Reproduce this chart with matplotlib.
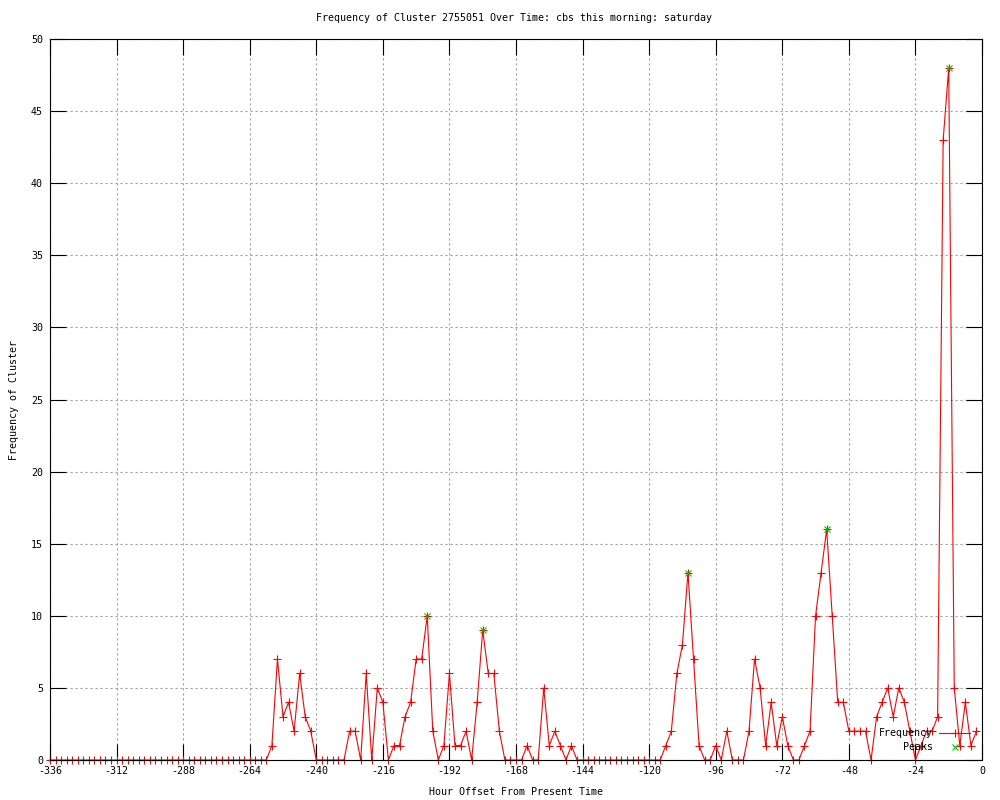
import matplotlib
matplotlib.use("Agg")
import matplotlib.pyplot as plt
import numpy as np

plt.rcParams['font.family'] = ['DejaVu Sans Mono']
plt.rcParams['axes.unicode_minus'] = False

title = "Frequency of Cluster 2755051 Over Time: cbs this morning: saturday"
xlabel = "Hour Offset From Present Time"
ylabel = "Frequency of Cluster"

hours = list(range(-336, 0, 2))
freq = ([0] * 40 +
        [1, 7, 3, 4, 2, 6, 3, 2,            # -256 .. -242
         0, 0, 0, 0, 0, 0, 2, 2, 0, 6,      # -240 .. -222
         0, 5, 4, 0, 1, 1, 3, 4, 7, 7,      # -220 .. -202
         10, 2, 0, 1, 6, 1, 1, 2, 0, 4,     # -200 .. -182
         9, 6, 6, 2, 0, 0, 0, 0, 1, 0,      # -180 .. -162
         0, 5, 1, 2, 1, 0, 1, 0] +          # -160 .. -146
        [0] * 15 +                          # -144 .. -116
        [1, 2, 6, 8, 13, 7, 1, 0, 0, 1,     # -114 .. -96
         0, 2, 0, 0, 0, 2, 7, 5, 1, 4,      # -94 .. -76
         1, 3, 1, 0, 0, 1, 2, 10, 13, 16,   # -74 .. -56
         10, 4, 4, 2, 2, 2, 2, 0, 3, 4,     # -54 .. -36
         5, 3, 5, 4, 2, 0, 1, 2, 2, 3,      # -34 .. -16
         43, 48, 5, 1, 4, 1, 2])            # -14 .. -2

peak_hours = [-200, -180, -106, -56, -12]
peak_vals = [10, 9, 13, 16, 48]

xticks = list(range(-336, 1, 24))
yticks = list(range(0, 51, 5))

fig = plt.figure(figsize=(10, 8), dpi=100)
ax = fig.add_axes([0.05, 0.05, 0.932, 0.90125])

ax.plot(hours, freq, color='red', lw=0.8, marker='+', ms=5.5, mew=0.8,
        clip_on=False, label='Frequency', zorder=3)
ax.plot(peak_hours, peak_vals, ls='none', marker='x', color='#00c000',
        ms=5, mew=0.8, clip_on=False, label='Peaks', zorder=4)

ax.set_xlim(-336, 0)
ax.set_ylim(0, 50)
ax.set_xticks(xticks)
ax.set_yticks(yticks)
ax.grid(True, color='#a0a0a0', lw=0.8, linestyle=(0, (2, 2.5)))
ax.set_axisbelow(True)
ax.tick_params(direction='in', length=11.5, width=0.8, top=True, right=True,
               labelsize=7.2, pad=4)
ax.tick_params(axis='y', pad=5)
for s in ax.spines.values():
    s.set_linewidth(0.8)
    s.set_zorder(5)

ax.set_xlabel(xlabel, fontsize=7.2, labelpad=8)
ax.set_ylabel(ylabel, fontsize=7.2, labelpad=9)
fig.text(0.514, 1 - 18 / 800, title, ha='center', va='center', fontsize=7.2)

ax.legend(loc='lower right', bbox_to_anchor=(970 / 1000, 48 / 800),
          bbox_transform=fig.transFigure, frameon=False, markerfirst=False,
          fontsize=7.2, handlelength=3.1, handletextpad=0.6,
          labelspacing=0.35, borderpad=0, borderaxespad=0, numpoints=1)

fig.savefig('out.png', dpi=100)
